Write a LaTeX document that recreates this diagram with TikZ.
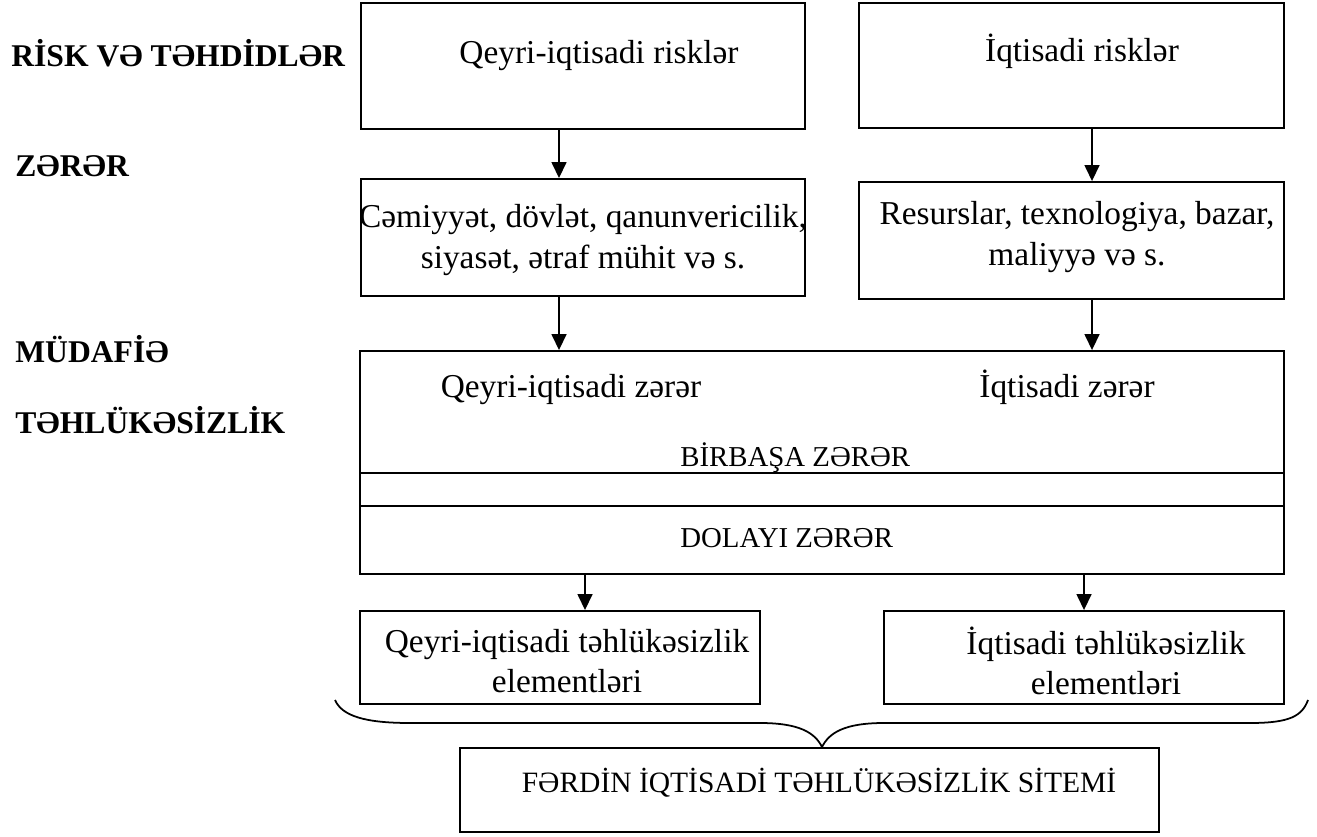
\documentclass[tikz,border=0pt]{standalone}
\usepackage{fontspec}
\setmainfont{Liberation Serif}
\usepackage{tikz}
\usetikzlibrary{arrows.meta}
\tikzset{%
    box/.style={draw, line width=1.1pt, inner sep=0pt},
    txt/.style={inner sep=0pt, align=center,
        font=\fontsize{19}{22.8}\selectfont},
    captxt/.style={inner sep=0pt, font=\fontsize{16.4}{20}\selectfont},
    level/.style={inner sep=0pt, anchor=base west,
        font=\fontsize{18}{22}\selectfont\bfseries},
    arr/.style={-{Triangle[length=0.32cm,width=0.3cm]}, line width=0.9pt},
    brace/.style={line width=1pt}
}

\begin{document}
\begin{tikzpicture}[x=0.02cm, y=-0.02cm]
    \useasboundingbox (0,0) rectangle (1317,837);
    % levels on the left
    \node[level] (lrisk) at (11,67) {RİSK VƏ TƏHDİDLƏR};
    \node[level] (lharm) at (15,177) {ZƏRƏR};
    \node[level] (ldef) at (15,363) {MÜDAFİƏ};
    \node[level] (lsafe) at (15,433) {TƏHLÜKƏSİZLİK};
    % boxes
    \node[box, minimum width=8.88cm, minimum height=2.52cm] (qrisk) at (583,66) {};
    \node[box, minimum width=8.5cm, minimum height=2.5cm] (irisk) at (1071.5,65.5) {};
    \node[box, minimum width=8.88cm, minimum height=2.34cm] (qharm) at (583,237.5) {};
    \node[box, minimum width=8.5cm, minimum height=2.34cm] (iharm) at (1071.5,240.5) {};
    \node[box, minimum width=18.48cm, minimum height=4.46cm] (damage) at (822,462.5) {};
    \node[box, minimum width=8cm, minimum height=1.86cm] (qsafe) at (560,657.5) {};
    \node[box, minimum width=8cm, minimum height=1.86cm] (isafe) at (1084,657.5) {};
    \node[box, minimum width=13.98cm, minimum height=1.68cm] (system) at (809.5,790) {};
    % texts
    \node[txt, anchor=base] (qriskt) at (599,64) {Qeyri-iqtisadi risklər};
    \node[txt, anchor=base] (iriskt) at (1082,62) {İqtisadi risklər};
    \node[txt] (qharmt) at (583,240) {Cəmiyyət, dövlət, qanunvericilik,\\siyasət, ətraf mühit və s.};
    \node[txt] (iharmt) at (1077,237) {Resurslar, texnologiya, bazar,\\maliyyə və s.};
    \node[txt, anchor=base] (qdamt) at (571,398) {Qeyri-iqtisadi zərər};
    \node[txt, anchor=base] (idamt) at (1067,398) {İqtisadi zərər};
    \node[captxt, anchor=base west] (direct) at (680,466) {BİRBAŞA ZƏRƏR};
    \node[captxt, anchor=base west] (indirect) at (680,547) {DOLAYI ZƏRƏR};
    \node[txt] (qsafet) at (567,661) {Qeyri-iqtisadi təhlükəsizlik\\elementləri};
    \node[txt] (isafet) at (1106,661) {İqtisadi təhlükəsizlik\\elementləri};
    \node[captxt, anchor=base, font=\fontsize{16.8}{20}\selectfont] (systemt) at (819,792) {FƏRDİN İQTİSADİ TƏHLÜKƏSİZLİK SİTEMİ};
    % rows inside the damage box
    \draw[line width=1.1pt] (damage.west |- 0,473) -- (damage.east |- 0,473);
    \draw[line width=1.1pt] (damage.west |- 0,506) -- (damage.east |- 0,506);
    % arrows
    \foreach \x/\a/\b in {559/qrisk/qharm, 1092/irisk/iharm, 559/qharm/damage,
        1092/iharm/damage, 585/damage/qsafe, 1084/damage/isafe}
    {
    \draw[arr] (\x,0 |- \a.south) -- (\x,0 |- \b.north);
    }
    % brace
    \draw[brace] (335,700) .. controls (342,716) and (365,723) .. (410,723)
        -- (760,723) .. controls (800,723) and (815,733) .. (822,747)
        .. controls (829,733) and (844,723) .. (884,723)
        -- (1250,723) .. controls (1290,723) and (1302,716) .. (1308,700);
\end{tikzpicture}
\end{document}
